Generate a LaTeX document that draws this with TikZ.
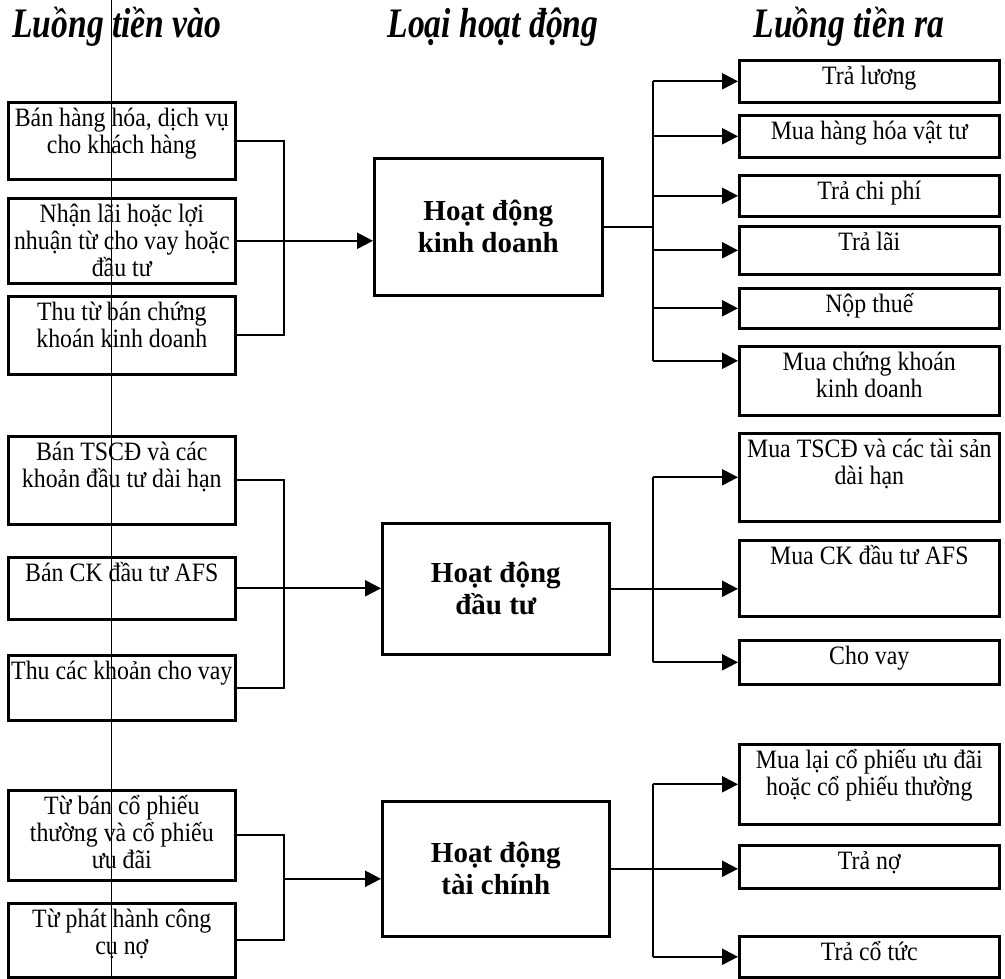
\documentclass[tikz,border=0pt]{standalone}
\usepackage{fontspec}
\setmainfont{Liberation Serif}[FakeStretch=0.9]
\newfontfamily\actfont{Liberation Serif}
\newfontfamily\titlefont{Liberation Serif}[FakeStretch=0.8]
\usetikzlibrary{arrows.meta}
\newcommand{\cellbox}[3]{\parbox[t][#2][t]{#1}{\centering\rule{0pt}{24pt}#3}}
\begin{document}
\begin{tikzpicture}[x=1pt,y=-1pt,
    cell/.style={draw,line width=2.6pt,inner sep=0pt,anchor=north west,font=\fontsize{26.5}{27}\selectfont},
    act/.style={draw,line width=2.6pt,inner sep=0pt,anchor=north west,align=center,minimum width=227pt,font=\actfont\bfseries\fontsize{29}{32}\selectfont},
    head/.style={anchor=base,font=\titlefont\bfseries\itshape\fontsize{42}{44}\selectfont},
    link/.style={line width=2.3pt},
    arr/.style={link,-{Triangle[length=16pt,width=16pt]}}]
  \useasboundingbox (0,0) rectangle (1005,979);
  \node[head] (hin) at (117,38) {Luồng tiền vào};
  \node[head] (hact) at (493,38) {Loại hoạt động};
  \node[head] (hout) at (849,38) {Luồng tiền ra};
  % inflows
  \node[cell] (in1) at (7,101) {\cellbox{227pt}{77pt}{Bán hàng hóa, dịch vụ\\cho khách hàng}};
  \node[cell] (in2) at (7,197) {\cellbox{227pt}{85pt}{Nhận lãi hoặc lợi\\nhuận từ cho vay hoặc\\đầu tư}};
  \node[cell] (in3) at (7,295) {\cellbox{227pt}{78pt}{Thu từ bán chứng\\khoán kinh doanh}};
  \node[cell] (in4) at (7,435) {\cellbox{227pt}{88pt}{Bán TSCĐ và các\\khoản đầu tư dài hạn}};
  \node[cell] (in5) at (7,556) {\cellbox{227pt}{62pt}{Bán CK đầu tư AFS}};
  \node[cell] (in6) at (7,654) {\cellbox{227pt}{65pt}{Thu các khoản cho vay}};
  \node[cell] (in7) at (7,789) {\cellbox{227pt}{90pt}{Từ bán cổ phiếu\\thường và cổ phiếu\\ưu đãi}};
  \node[cell] (in8) at (7,902) {\cellbox{227pt}{74pt}{Từ phát hành công\\cụ nợ}};
  % activities
  \node[act,minimum width=228pt,minimum height=137pt] (kd) at (373,157) {Hoạt động\\kinh doanh};
  \node[act,minimum height=131pt] (dt) at (381,522) {Hoạt động\\đầu tư};
  \node[act,minimum height=135pt] (tc) at (381,800) {Hoạt động\\tài chính};
  % outflows
  \node[cell] (out1) at (738,59) {\cellbox{260pt}{42pt}{Trả lương}};
  \node[cell] (out2) at (738,114) {\cellbox{260pt}{42pt}{Mua hàng hóa vật tư}};
  \node[cell] (out3) at (738,174) {\cellbox{260pt}{41pt}{Trả chi phí}};
  \node[cell] (out4) at (738,225) {\cellbox{260pt}{48pt}{Trả lãi}};
  \node[cell] (out5) at (738,287) {\cellbox{260pt}{40pt}{Nộp thuế}};
  \node[cell] (out6) at (738,345) {\cellbox{260pt}{69pt}{Mua chứng khoán\\kinh doanh}};
  \node[cell] (out7) at (738,432) {\cellbox{260pt}{88pt}{Mua TSCĐ và các tài sản\\dài hạn}};
  \node[cell] (out8) at (738,539) {\cellbox{260pt}{76pt}{Mua CK đầu tư AFS}};
  \node[cell] (out9) at (738,639) {\cellbox{260pt}{44pt}{Cho vay}};
  \node[cell] (out10) at (738,743) {\cellbox{260pt}{80pt}{Mua lại cổ phiếu ưu đãi\\hoặc cổ phiếu thường}};
  \node[cell] (out11) at (738,844) {\cellbox{260pt}{43pt}{Trả nợ}};
  \node[cell] (out12) at (738,935) {\cellbox{260pt}{41pt}{Trả cổ tức}};
  \coordinate (bin) at (284,0);
  \coordinate (bout) at (653,0);
  \coordinate (out6a) at ([yshift=20pt]out6.west);
  \coordinate (tca) at ([yshift=-10pt]tc.west);
  % operating
  \draw[link] (in1.east) -| (bin |- in3.east) -- (in3.east);
  \draw[arr] (in2.east) -- (in2.east -| kd.west);
  \draw[link] (kd.east) -- (kd.east -| bout);
  \draw[link] (bout |- out1.west) -- (bout |- out6a);
  \foreach \n in {out1,out2,out3,out4,out5}
    \draw[arr] (bout |- \n.west) -- (\n.west);
  \draw[arr] (bout |- out6a) -- (out6a);
  % investing
  \draw[link] (in4.east) -| (bin |- in6.east) -- (in6.east);
  \draw[arr] (in5.east) -- (in5.east -| dt.west);
  \draw[arr] (dt.east) -- (dt.east -| out8.west);
  \draw[link] (bout |- out7.west) -- (bout |- out9.west);
  \foreach \n in {out7,out9}
    \draw[arr] (bout |- \n.west) -- (\n.west);
  % financing
  \draw[link] (in7.east) -| (bin |- in8.east) -- (in8.east);
  \draw[arr] (bin |- tca) -- (tca);
  \draw[arr] (tc.east) -- (tc.east -| out11.west);
  \draw[link] (bout |- out10.west) -- (bout |- out12.west);
  \foreach \n in {out10,out12}
    \draw[arr] (bout |- \n.west) -- (\n.west);
  \draw[line width=0.8pt] (111,0) -- (111,979);
\end{tikzpicture}
\end{document}
